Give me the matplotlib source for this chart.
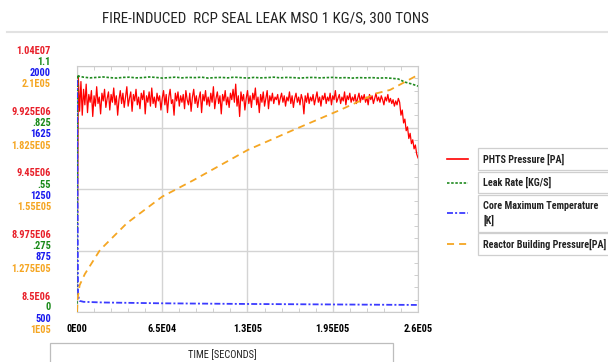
import numpy as np
import matplotlib
matplotlib.use("Agg")
import matplotlib.pyplot as plt
from matplotlib.patches import Rectangle
from matplotlib.lines import Line2D
from matplotlib.ticker import AutoMinorLocator
from matplotlib import font_manager as fm

_installed = {f.name for f in fm.fontManager.ttflist}
_cands = ['Roboto Condensed', 'Open Sans Condensed', 'PT Sans Narrow',
          'Archivo Narrow', 'Fira Sans Condensed', 'Barlow Condensed',
          'Liberation Sans Narrow', 'DejaVu Sans']
FONT = [c for c in _cands if c in _installed] or ['DejaVu Sans']
plt.rcParams['font.family'] = FONT[:1] + ['DejaVu Sans']

# ---------------- data ----------------
title = "FIRE-INDUCED  RCP SEAL LEAK MSO 1 KG/S, 300 TONS"
x_label = "TIME [SECONDS]"
x_ticks = [0, 65000, 130000, 195000, 260000]
x_tick_labels = ["0E00", "6.5E04", "1.3E05", "1.95E05", "2.6E05"]

series_names = ["PHTS Pressure [PA]", "Leak Rate [KG/S]",
                "Core Maximum Temperature\n[K]", "Reactor Building Pressure[PA]"]

phts_ticks = [8.5e6, 8.975e6, 9.45e6, 9.925e6, 1.04e7]
phts_tick_labels = ["8.5E06", "8.975E06", "9.45E06", "9.925E06", "1.04E07"]
leak_ticks = [0, 0.275, 0.55, 0.825, 1.1]
leak_tick_labels = ["0", ".275", ".55", ".825", "1.1"]
temp_ticks = [500, 875, 1250, 1625, 2000]
temp_tick_labels = ["500", "875", "1250", "1625", "2000"]
rb_ticks = [1.0e5, 1.275e5, 1.55e5, 1.825e5, 2.1e5]
rb_tick_labels = ["1E05", "1.275E05", "1.55E05", "1.825E05", "2.1E05"]

# PHTS pressure, one reading every 1000 s (MPa)
phts_time = np.arange(0, 261000, 1000)
phts_mpa = [
    8.50, 10.32, 10.05, 10.28, 10.02, 10.22, 10.10, 10.26, 10.04, 10.18,
    10.12, 10.21, 10.01, 10.17, 10.09, 10.24, 10.11, 10.16, 10.03, 10.19,
    10.13, 10.22, 10.08, 10.15, 10.20, 10.06, 10.18, 10.12, 10.23, 10.10,
    10.17, 10.02, 10.14, 10.21, 10.11, 10.19, 10.08, 10.16, 10.24, 10.09,
    10.15, 10.20, 10.05, 10.18, 10.13, 10.22, 10.10, 10.16, 10.07, 10.19,
    10.14, 10.21, 10.03, 10.17, 10.12, 10.20, 10.09, 10.23, 10.11, 10.16,
    10.08, 10.19, 10.13, 10.17, 10.06, 10.15, 10.21, 10.10, 10.18, 10.04,
    10.16, 10.22, 10.11, 10.14, 10.02, 10.19, 10.13, 10.20, 10.09, 10.17,
    10.12, 10.18, 10.07, 10.21, 10.14, 10.10, 10.19, 10.05, 10.16, 10.22,
    10.11, 10.17, 10.08, 10.15, 10.20, 10.04, 10.18, 10.13, 10.21, 10.10,
    10.16, 10.09, 10.19, 10.12, 10.24, 10.07, 10.15, 10.20, 10.11, 10.17,
    10.03, 10.18, 10.13, 10.21, 10.10, 10.16, 10.08, 10.19, 10.14, 10.22,
    10.12, 10.26, 10.09, 10.17, 10.01, 10.20, 10.13, 10.18, 10.06, 10.15,
    10.21, 10.11, 10.17, 10.08, 10.19, 10.14, 10.23, 10.10, 10.16, 10.04,
    10.18, 10.12, 10.20, 10.09, 10.15, 10.21, 10.07, 10.17, 10.13, 10.19,
    10.11, 10.16, 10.14, 10.18, 10.10, 10.15, 10.19, 10.12, 10.17, 10.09,
    10.16, 10.13, 10.20, 10.11, 10.17, 10.08, 10.15, 10.19, 10.12, 10.16,
    10.10, 10.18, 10.14, 10.03, 10.17, 10.12, 10.19, 10.11, 10.16, 10.13,
    10.18, 10.10, 10.15, 10.20, 10.12, 10.16, 10.09, 10.17, 10.14, 10.19,
    10.11, 10.16, 10.13, 10.19, 10.10, 10.17, 10.14, 10.21, 10.12, 10.15,
    10.18, 10.11, 10.16, 10.13, 10.20, 10.10, 10.17, 10.14, 10.19, 10.12,
    10.16, 10.13, 10.18, 10.11, 10.15, 10.19, 10.12, 10.17, 10.14, 10.18,
    10.12, 10.16, 10.10, 10.18, 10.14, 10.17, 10.11, 10.15, 10.19, 10.13,
    10.16, 10.12, 10.17, 10.14, 10.10, 10.16, 10.13, 10.18, 10.12, 10.15,
    10.11, 10.14, 10.09, 10.13, 10.10, 10.15, 10.12, 10.02, 10.06, 9.96,
    9.99, 9.90, 9.93, 9.84, 9.88, 9.80, 9.83, 9.76, 9.79, 9.72,
    9.69,
]

leak_time = [0, 500, 1000, 5000, 10000, 15000, 20000, 25000, 30000, 35000,
             40000, 45000, 50000, 55000, 60000, 65000, 70000, 75000, 80000,
             85000, 90000, 95000, 100000, 105000, 110000, 115000, 120000,
             125000, 130000, 135000, 140000, 145000, 150000, 155000, 160000,
             165000, 170000, 175000, 180000, 185000, 190000, 195000, 200000,
             205000, 210000, 215000, 220000, 225000, 230000, 235000, 240000,
             245000, 250000, 255000, 260000]
leak_rate = [0.0, 1.060, 1.055, 1.050, 1.047, 1.049, 1.051, 1.048, 1.046,
             1.049, 1.050, 1.047, 1.048, 1.051, 1.049, 1.046, 1.048, 1.050,
             1.047, 1.049, 1.048, 1.050, 1.046, 1.048, 1.049, 1.047, 1.050,
             1.048, 1.046, 1.049, 1.047, 1.048, 1.050, 1.047, 1.049, 1.048,
             1.046, 1.048, 1.049, 1.047, 1.048, 1.049, 1.047, 1.048, 1.046,
             1.048, 1.047, 1.048, 1.046, 1.047, 1.045, 1.042, 1.028, 1.020,
             1.010]

temp_time = [0, 800, 2000, 5000, 20000, 65000, 130000, 195000, 260000]
core_temp = [1915, 600, 568, 562, 558, 553, 549, 546, 543]

rb_time = [0, 500, 2000, 6000, 17500, 38000, 65000, 89000, 130000, 165000,
           200500, 228500, 238700, 255200, 260000]
rb_pressure = [1.000e5, 1.060e5, 1.120e5, 1.170e5, 1.277e5, 1.397e5, 1.516e5,
               1.590e5, 1.724e5, 1.814e5, 1.903e5, 1.978e5, 1.993e5, 2.045e5,
               2.060e5]

# ---------------- style ----------------
c_red, c_green, c_blue, c_orange = "#ff0000", "#1f8a1f", "#3b3bff", "#f5a623"
t_red, t_green, t_blue, t_orange = "#e8202a", "#1a8a1a", "#1a1aee", "#f5a623"

W, H = 608, 362
fig = plt.figure(figsize=(W / 100, H / 100), dpi=100)
fig.patch.set_facecolor("white")

ax = fig.add_axes([77 / W, 50 / H, 341 / W, 246 / H])
ax_leak = ax.twinx()
ax_temp = ax.twinx()
ax_rb = ax.twinx()

ax.plot(phts_time, np.array(phts_mpa) * 1e6, color=c_red, lw=0.9, zorder=2)
ax_leak.plot(leak_time, leak_rate, color=c_green, lw=1.2, dashes=(1.5, 1.0))
ax_rb.plot(rb_time, rb_pressure, color=c_orange, lw=1.3, dashes=(3.9, 2.8))
ax_temp.plot(temp_time, core_temp, color=c_blue, lw=1.3, dashes=(3.3, 1.2, 1.1, 1.2))

ax.set_xlim(0, 260000)
ax.set_ylim(phts_ticks[0], phts_ticks[-1])
ax_leak.set_ylim(leak_ticks[0], leak_ticks[-1])
ax_temp.set_ylim(temp_ticks[0], temp_ticks[-1])
ax_rb.set_ylim(rb_ticks[0], rb_ticks[-1])

ax.set_xticks(x_ticks)
ax.set_xticklabels(x_tick_labels, fontsize=7.5, fontweight="bold")
ax.set_yticks(phts_ticks)
ax.set_yticklabels([])
ax.xaxis.set_minor_locator(AutoMinorLocator(5))
ax.yaxis.set_minor_locator(AutoMinorLocator(5))
ax.tick_params(axis="x", which="major", length=0, pad=9)
ax.tick_params(axis="y", which="major", length=0)
ax.tick_params(axis="x", which="minor", direction="in", length=3,
               color="#c8c8c8", top=True, bottom=True)
ax.tick_params(axis="y", which="minor", direction="in", length=3,
               color="#c8c8c8", left=False, right=True)
ax.grid(True, which="major", color="#d4d4d4", lw=1.0)
for s in ax.spines.values():
    s.set_color("#cccccc")

for a in (ax_leak, ax_temp, ax_rb):
    a.set_yticks([])
    for s in a.spines.values():
        s.set_visible(False)

# stacked coloured y tick labels
stack = [
    (ax, phts_ticks, phts_tick_labels, t_red, 15.5),
    (ax_leak, leak_ticks, leak_tick_labels, t_green, 4.5),
    (ax_temp, temp_ticks, temp_tick_labels, t_blue, -6.5),
    (ax_rb, rb_ticks, rb_tick_labels, t_orange, -18.0),
]
for a, vals, labs, col, off in stack:
    for v, lab in zip(vals, labs):
        a.annotate(lab, xy=(0, v), xycoords=("axes fraction", "data"),
                   xytext=(-26 * 0.72, off * 0.72), textcoords="offset points",
                   ha="right", va="center", fontsize=7.5, fontweight="bold",
                   color=col, annotation_clip=False)

# title and its rule
fig.text(265 / W, 1 - 18 / H, title, ha="center", va="center", fontsize=10.8,
         color="#222222")
fig.add_artist(Line2D([7 / W, 1], [1 - 32 / H, 1 - 32 / H], color="#e2e2e2",
                      lw=1.5, transform=fig.transFigure))

# x label box
fig.add_artist(Rectangle((50 / W, -0.05), 343 / W, 0.05 + 19 / H,
                         transform=fig.transFigure, facecolor="white",
                         edgecolor="#bdbdbd", lw=0.9))
fig.text(222 / W, 1 - 355 / H, x_label, ha="center", va="center",
         fontsize=7.5, color="#222222")

# legend
legend_rows = [
    (series_names[0], c_red, dict(ls="-", lw=1.2), 148, 170, 159),
    (series_names[1], c_green, dict(lw=1.2, dashes=(1.5, 1.0)), 172, 193, 182.5),
    (series_names[2], c_blue, dict(lw=1.3, dashes=(3.3, 1.2, 1.1, 1.2)), 195, 232, 213),
    (series_names[3], c_orange, dict(lw=1.3, dashes=(3.9, 2.8)), 233, 255, 244),
]
for name, col, kw, top, bot, mid in legend_rows:
    fig.add_artist(Rectangle((478 / W, 1 - bot / H), 140 / W, (bot - top) / H,
                             transform=fig.transFigure, facecolor="white",
                             edgecolor="#cfcfcf", lw=0.9))
    fig.add_artist(Line2D([447 / W, 468 / W], [1 - mid / H, 1 - mid / H],
                          color=col, transform=fig.transFigure, **kw))
    fig.text(483 / W, 1 - (top + bot) / 2 / H, name, ha="left", va="center",
             fontsize=7.3, fontweight="bold", color="#222222", linespacing=1.5)

fig.savefig("out.png", dpi=100)
